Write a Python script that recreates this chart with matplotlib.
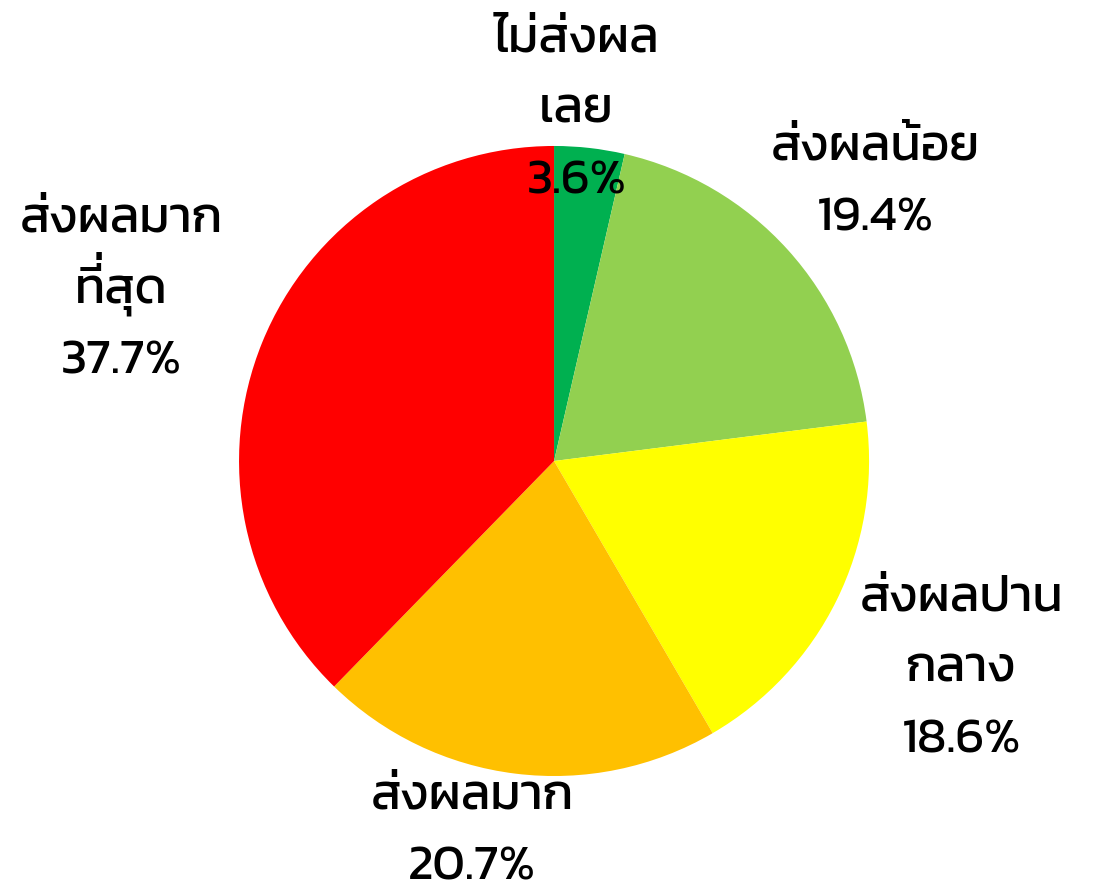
import numpy as np
import matplotlib
matplotlib.use("Agg")
import matplotlib.pyplot as plt
from matplotlib.font_manager import FontProperties
from matplotlib.transforms import offset_copy

categories = ["ไม่ส่งผล\nเลย", "ส่งผลน้อย", "ส่งผลปาน\nกลาง", "ส่งผลมาก", "ส่งผลมาก\nที่สุด"]
values = [3.6, 19.4, 18.6, 20.7, 37.7]
colors = ["#00B050", "#92D050", "#FFFF00", "#FFC000", "#FF0000"]

# label placement: distance from centre (in radii) and angular nudge (deg)
label_dist = [1.132, 1.36, 1.444, 1.19, 1.484]
label_nudge = [2.9, -0.7, -0.2, -5.6, 0.0]

FAMILY = ['Kanit', 'DejaVu Sans']
FS = 36
GAP = 71 * 72 / 100  # line pitch in points
plt.rcParams['font.family'] = FAMILY

UPPER = "\u0e31\u0e34\u0e35\u0e36\u0e37"
TONES = "\u0e48\u0e49\u0e4a\u0e4b"

fig = plt.figure(figsize=(10.94, 8.87), dpi=100)
ax = fig.add_axes([0.2185, 0.1240, 0.5759, 0.7103])

wedges, _ = ax.pie(values, colors=colors, startangle=90, counterclock=False,
                   wedgeprops=dict(linewidth=0))
ax.set_xlim(-1, 1)
ax.set_ylim(-1, 1)
ax.set_aspect('equal')
ax.axis('off')

renderer = fig.canvas.get_renderer()
fp = FontProperties(family=FAMILY, size=FS)


def width(s):
    return renderer.get_text_width_height_descent(s, fp, ismath=False)[0]


for w, cat, v, d, nudge in zip(wedges, categories, values, label_dist, label_nudge):
    ang = np.deg2rad((w.theta1 + w.theta2) / 2 + nudge)
    x, y = d * np.cos(ang), d * np.sin(ang)
    lines = cat.split("\n") + [f"{v}%"]
    n = len(lines)
    for i, line in enumerate(lines):
        dy = ((n - 1) / 2 - i) * GAP - 0.33 * FS
        # matplotlib has no Thai shaping: a tone mark after an upper vowel
        # lands on top of the vowel, so draw it separately, raised
        k = next((j for j in range(1, len(line))
                  if line[j] in TONES and line[j - 1] in UPPER), None)
        if k is None:
            ax.text(x, y, line, ha='center', va='baseline', fontsize=FS,
                    transform=offset_copy(ax.transData, fig, y=dy, units='points'))
            continue
        base = line[:k] + line[k + 1:]
        ax.text(x, y, base, ha='center', va='baseline', fontsize=FS,
                transform=offset_copy(ax.transData, fig, y=dy, units='points'))
        xoff = (-width(base) / 2 + width(line[:k])) * 72 / 100
        ax.text(x, y, line[k], ha='right', va='baseline', fontsize=FS,
                transform=offset_copy(ax.transData, fig, x=xoff,
                                      y=dy + 0.2 * FS, units='points'))

fig.savefig("out.png")
